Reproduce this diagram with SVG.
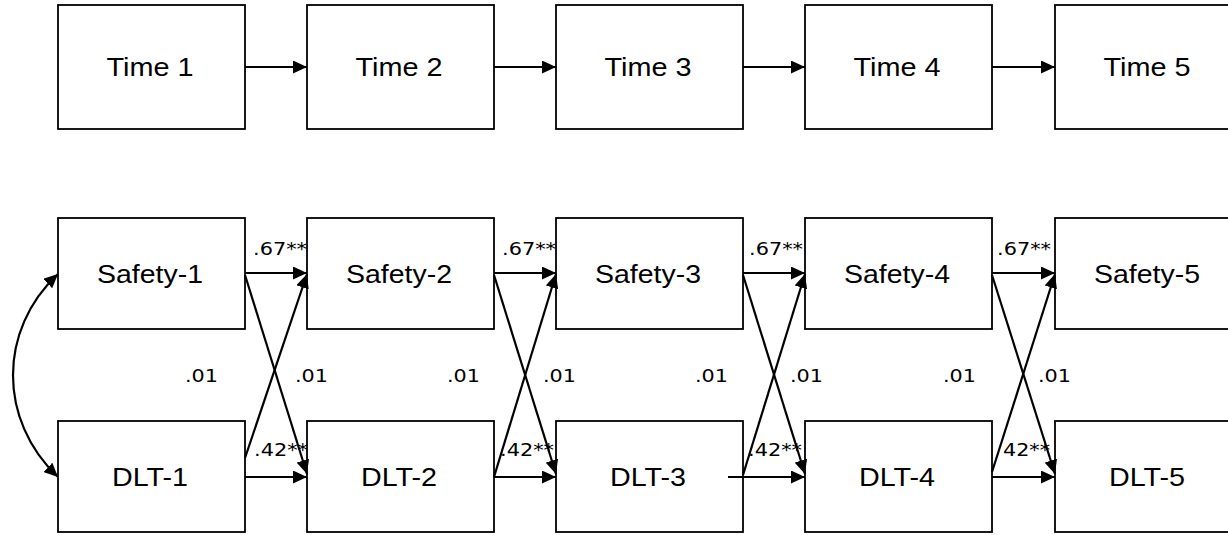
<svg xmlns="http://www.w3.org/2000/svg" width="1228" height="535" viewBox="0 0 1228 535">
<style>
.box{fill:#fff;stroke:#000;stroke-width:1.8}
.lbl{font-family:"Liberation Sans",Arial,sans-serif;font-size:26px;fill:#000;text-anchor:middle}
.coef{font-family:"DejaVu Sans",Verdana,sans-serif;font-size:18.5px;fill:#000}
.con{fill:none;stroke:#000;stroke-width:2.2}
</style>
<defs>
<marker id="ah" markerUnits="userSpaceOnUse" markerWidth="15" markerHeight="13" refX="14" refY="6.5" orient="auto-start-reverse">
<path d="M0,0 L14,6.5 L0,13 Z" fill="#000"/>
</marker>
</defs>
<rect width="1228" height="535" fill="#fff"/>

<g id="time1"><rect class="box" x="58" y="5" width="187" height="124"/><text class="lbl" x="150" y="76" textLength="87" lengthAdjust="spacingAndGlyphs">Time 1</text></g>
<g id="time2"><rect class="box" x="307" y="5" width="187" height="124"/><text class="lbl" x="399" y="76" textLength="87" lengthAdjust="spacingAndGlyphs">Time 2</text></g>
<g id="time3"><rect class="box" x="556" y="5" width="187" height="124"/><text class="lbl" x="648" y="76" textLength="87" lengthAdjust="spacingAndGlyphs">Time 3</text></g>
<g id="time4"><rect class="box" x="805" y="5" width="187" height="124"/><text class="lbl" x="897" y="76" textLength="87" lengthAdjust="spacingAndGlyphs">Time 4</text></g>
<g id="time5"><rect class="box" x="1055" y="5" width="187" height="124"/><text class="lbl" x="1147" y="76" textLength="87" lengthAdjust="spacingAndGlyphs">Time 5</text></g>

<g id="safety1"><rect class="box" x="58" y="218" width="187" height="111"/><text class="lbl" x="150" y="283" textLength="106" lengthAdjust="spacingAndGlyphs">Safety-1</text></g>
<g id="safety2"><rect class="box" x="307" y="218" width="187" height="111"/><text class="lbl" x="399" y="283" textLength="106" lengthAdjust="spacingAndGlyphs">Safety-2</text></g>
<g id="safety3"><rect class="box" x="556" y="218" width="187" height="111"/><text class="lbl" x="648" y="283" textLength="106" lengthAdjust="spacingAndGlyphs">Safety-3</text></g>
<g id="safety4"><rect class="box" x="805" y="218" width="187" height="111"/><text class="lbl" x="897" y="283" textLength="106" lengthAdjust="spacingAndGlyphs">Safety-4</text></g>
<g id="safety5"><rect class="box" x="1055" y="218" width="187" height="111"/><text class="lbl" x="1147" y="283" textLength="106" lengthAdjust="spacingAndGlyphs">Safety-5</text></g>

<g id="dlt1"><rect class="box" x="58" y="421" width="187" height="111"/><text class="lbl" x="150" y="486" textLength="76" lengthAdjust="spacingAndGlyphs">DLT-1</text></g>
<g id="dlt2"><rect class="box" x="307" y="421" width="187" height="111"/><text class="lbl" x="399" y="486" textLength="76" lengthAdjust="spacingAndGlyphs">DLT-2</text></g>
<g id="dlt3"><rect class="box" x="556" y="421" width="187" height="111"/><text class="lbl" x="648" y="486" textLength="76" lengthAdjust="spacingAndGlyphs">DLT-3</text></g>
<g id="dlt4"><rect class="box" x="805" y="421" width="187" height="111"/><text class="lbl" x="897" y="486" textLength="76" lengthAdjust="spacingAndGlyphs">DLT-4</text></g>
<g id="dlt5"><rect class="box" x="1055" y="421" width="187" height="111"/><text class="lbl" x="1147" y="486" textLength="76" lengthAdjust="spacingAndGlyphs">DLT-5</text></g>

<g id="connectors">
<path class="con" marker-end="url(#ah)" d="M245,67 L307,67"/>
<path class="con" marker-end="url(#ah)" d="M494,67 L556,67"/>
<path class="con" marker-end="url(#ah)" d="M743,67 L805,67"/>
<path class="con" marker-end="url(#ah)" d="M992,67 L1055,67"/>

<path class="con" marker-start="url(#ah)" marker-end="url(#ah)" d="M58,274 C-2,330 -2,420 58,477"/>

<path class="con" marker-end="url(#ah)" d="M245,273 L307,273"/>
<path class="con" marker-end="url(#ah)" d="M494,273 L556,273"/>
<path class="con" marker-end="url(#ah)" d="M743,273 L805,273"/>
<path class="con" marker-end="url(#ah)" d="M992,273 L1055,273"/>

<path class="con" marker-end="url(#ah)" d="M245,477 L307,477"/>
<path class="con" marker-end="url(#ah)" d="M494,477 L556,477"/>
<path class="con" marker-end="url(#ah)" d="M728,477 L805,477"/>
<path class="con" marker-end="url(#ah)" d="M992,477 L1055,477"/>

<path class="con" marker-end="url(#ah)" d="M245,275 L307,474"/>
<path class="con" marker-end="url(#ah)" d="M494,275 L556,474"/>
<path class="con" marker-end="url(#ah)" d="M743,275 L805,474"/>
<path class="con" marker-end="url(#ah)" d="M992,275 L1055,474"/>

<path class="con" marker-end="url(#ah)" d="M245,458 L307,274"/>
<path class="con" marker-end="url(#ah)" d="M494,477 L556,274"/>
<path class="con" marker-end="url(#ah)" d="M743,475 L805,274"/>
<path class="con" marker-end="url(#ah)" d="M992,472 L1055,274"/>
</g>

<g id="labels">
<text class="coef" x="253" y="255" textLength="54" lengthAdjust="spacingAndGlyphs">.67**</text>
<text class="coef" x="502" y="255" textLength="54" lengthAdjust="spacingAndGlyphs">.67**</text>
<text class="coef" x="749" y="255" textLength="54" lengthAdjust="spacingAndGlyphs">.67**</text>
<text class="coef" x="997" y="255" textLength="54" lengthAdjust="spacingAndGlyphs">.67**</text>

<text class="coef" x="254" y="456" textLength="54" lengthAdjust="spacingAndGlyphs">.42**</text>
<text class="coef" x="500" y="456" textLength="54" lengthAdjust="spacingAndGlyphs">.42**</text>
<text class="coef" x="748" y="456" textLength="54" lengthAdjust="spacingAndGlyphs">.42**</text>
<text class="coef" x="1003" y="456" textLength="47" lengthAdjust="spacingAndGlyphs">42**</text>

<text class="coef" x="185" y="382" textLength="33" lengthAdjust="spacingAndGlyphs">.01</text>
<text class="coef" x="447" y="382" textLength="33" lengthAdjust="spacingAndGlyphs">.01</text>
<text class="coef" x="695" y="382" textLength="33" lengthAdjust="spacingAndGlyphs">.01</text>
<text class="coef" x="943" y="382" textLength="33" lengthAdjust="spacingAndGlyphs">.01</text>

<text class="coef" x="295" y="382" textLength="33" lengthAdjust="spacingAndGlyphs">.01</text>
<text class="coef" x="543" y="382" textLength="33" lengthAdjust="spacingAndGlyphs">.01</text>
<text class="coef" x="790" y="382" textLength="33" lengthAdjust="spacingAndGlyphs">.01</text>
<text class="coef" x="1038" y="382" textLength="33" lengthAdjust="spacingAndGlyphs">.01</text>
</g>
</svg>
